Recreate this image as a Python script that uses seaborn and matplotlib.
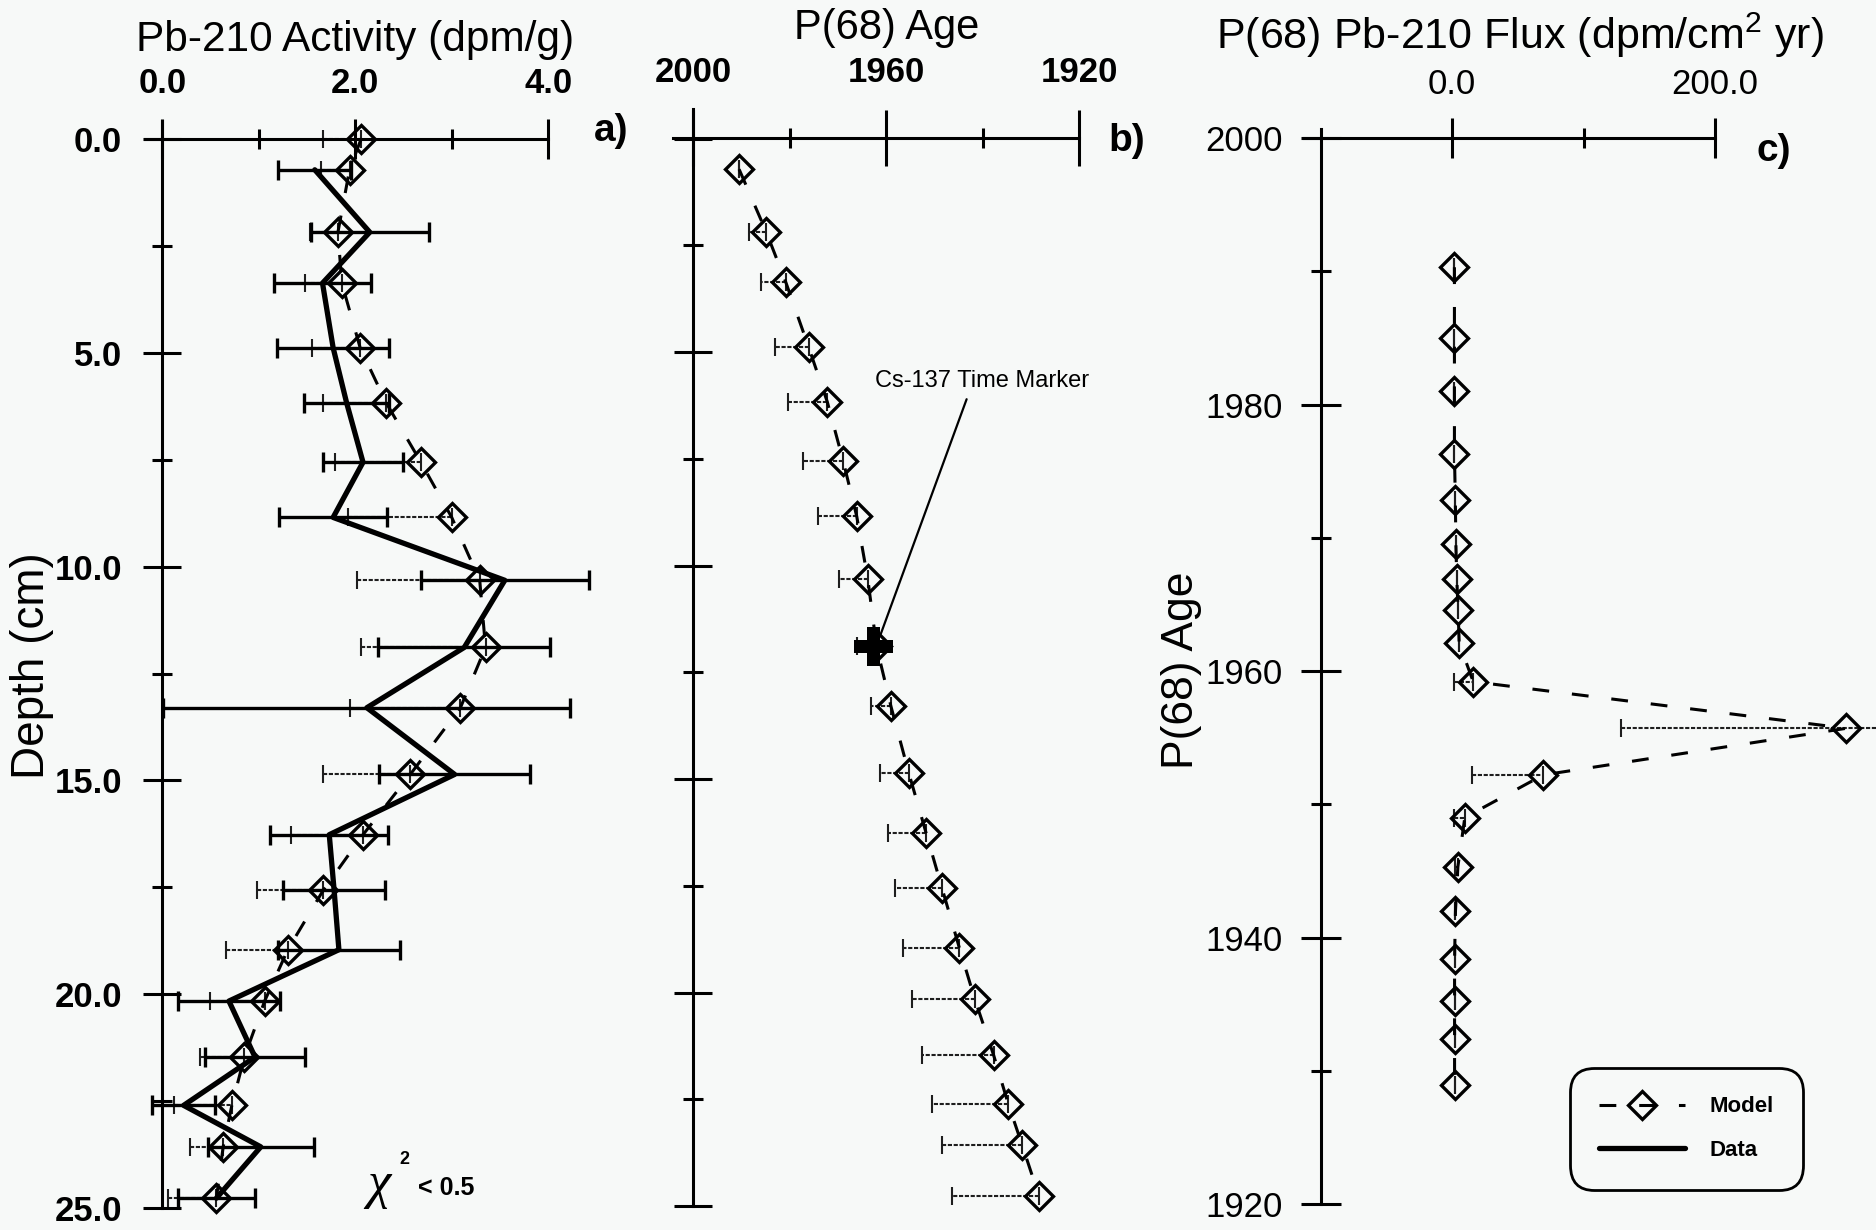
import matplotlib
matplotlib.use("Agg")
import matplotlib.pyplot as plt
import seaborn as sns
from matplotlib.lines import Line2D
from matplotlib.ticker import FixedLocator, FormatStrFormatter

# ---------------- data ----------------
depth_cm = [0.0, 0.72, 2.18, 3.37, 4.88, 6.17, 7.56, 8.85, 10.32, 11.89,
            13.30, 14.86, 16.27, 17.56, 18.96, 20.16, 21.47, 22.60, 23.57, 24.77]
model_activity = [2.06, 1.94, 1.82, 1.86, 2.05, 2.32, 2.68, 3.00, 3.29, 3.35,
                  3.09, 2.57, 2.08, 1.67, 1.30, 1.06, 0.85, 0.72, 0.63, 0.56]
model_activity_err = [0.40, 0.30, 0.29, 0.38, 0.50, 0.66, 0.89, 1.08, 1.27, 1.29,
                      1.14, 0.90, 0.75, 0.69, 0.64, 0.57, 0.46, 0.60, 0.34, 0.50]

data_depth_cm = [0.72, 2.18, 3.37, 4.88, 6.17, 7.56, 8.85, 10.32, 11.89,
                 13.30, 14.86, 16.27, 17.56, 18.96, 20.16, 21.47, 22.60, 23.57, 24.77]
data_activity = [1.58, 2.15, 1.66, 1.77, 1.91, 2.08, 1.77, 3.55, 3.13, 2.12,
                 3.03, 1.73, 1.78, 1.83, 0.69, 0.96, 0.22, 1.02, 0.56]
data_activity_err = [0.38, 0.61, 0.50, 0.58, 0.44, 0.41, 0.56, 0.87, 0.89, 2.11,
                     0.78, 0.61, 0.53, 0.63, 0.53, 0.52, 0.33, 0.55, 0.40]

age_depth_cm = [0.72, 2.18, 3.37, 4.88, 6.17, 7.56, 8.85, 10.32, 11.89,
                13.30, 14.86, 16.27, 17.56, 18.96, 20.16, 21.47, 22.60, 23.57, 24.77]
model_age = [1990.5, 1984.9, 1980.8, 1976.1, 1972.2, 1968.9, 1966.1, 1963.8, 1962.0, 1959.0,
             1955.3, 1951.7, 1948.4, 1944.8, 1941.6, 1937.7, 1934.7, 1931.8, 1928.3]
model_age_err = [0.0, 3.5, 5.2, 6.9, 8.2, 8.4, 8.0, 5.9, 4.0, 4.1,
                 5.9, 7.9, 9.8, 11.7, 13.0, 14.8, 15.7, 16.7, 18.0]
age_err_zero = [0.0] * len(model_age)
cs137_age = [1962.7]
cs137_depth = [11.89]

flux_age = [1990.3, 1985.0, 1981.0, 1976.3, 1972.8, 1969.5, 1966.9, 1964.6, 1962.1, 1959.2,
            1955.7, 1952.2, 1949.0, 1945.3, 1942.0, 1938.4, 1935.2, 1932.4, 1928.9]
flux_model = [1.7, 1.7, 1.7, 1.7, 2.4, 2.8, 3.5, 4.5, 5.3, 16.0,
              300.2, 69.3, 9.6, 4.3, 2.5, 1.8, 1.8, 1.8, 1.8]
flux_err_low = [0.0, 0.0, 0.0, 0.0, 0.0, 0.0, 0.0, 0.0, 0.0, 15.0,
                171.6, 54.0, 8.5, 2.0, 0.0, 0.0, 0.0, 0.0, 0.0]
flux_err_high = [0.0, 0.0, 0.0, 0.0, 0.0, 0.0, 0.0, 0.0, 0.0, 0.0,
                 171.6, 0.0, 0.0, 0.0, 0.0, 0.0, 0.0, 0.0, 0.0]

activity_ticks = [0.0, 2.0, 4.0]
activity_minor = [1.0, 3.0]
depth_ticks = [0.0, 5.0, 10.0, 15.0, 20.0, 25.0]
depth_minor = [2.5, 7.5, 12.5, 17.5, 22.5]
age_ticks = [2000, 1960, 1920]
age_minor = [1980, 1940]
flux_ticks = [0.0, 200.0]
flux_minor = [100.0]
year_ticks = [2000, 1980, 1960, 1940, 1920]
year_minor = [1990, 1970, 1950, 1930]

# ---------------- style ----------------
BG = "#f7f9f8"
W, H = 1876, 1230
sns.set_theme(style="white")
plt.rcParams.update({
    "figure.facecolor": BG,
    "axes.facecolor": BG,
    "savefig.facecolor": BG,
    "text.color": "black",
    "axes.labelcolor": "black",
    "xtick.color": "black",
    "ytick.color": "black",
    "mathtext.fontset": "custom",
    "mathtext.rm": "Liberation Sans",
    "mathtext.it": "Liberation Sans:italic",
    "mathtext.bf": "Liberation Sans:bold",
})
plt.rcParams["font.family"] = ["Liberation Sans", "DejaVu Sans"]

fig = plt.figure(figsize=(W / 100, H / 100), dpi=100)

LW_AX = 2.2
DASH = (0, (5.5, 7.5))


def add_axes(xlim, ylim, xa, pxa, xb, pxb, ya, pya, yb, pyb):
    sx = (pxb - pxa) / (xb - xa)
    sy = (pyb - pya) / (yb - ya)
    l = pxa + (xlim[0] - xa) * sx
    r = pxa + (xlim[1] - xa) * sx
    b = pya + (ylim[0] - ya) * sy
    t = pya + (ylim[1] - ya) * sy
    ax = fig.add_axes([l / W, 1 - b / H, (r - l) / W, (b - t) / H])
    ax.set_facecolor("none")
    return ax


def style(ax, xlim, ylim, xpos, ybounds, ypos, xbounds):
    ax.set_xlim(*xlim)
    ax.set_ylim(*ylim)
    ax.set_xlabel("")
    ax.set_ylabel("")
    for s in ["bottom", "right"]:
        ax.spines[s].set_visible(False)
    ax.spines["left"].set_position(("data", xpos))
    ax.spines["left"].set_bounds(*ybounds)
    ax.spines["top"].set_position(("data", ypos))
    ax.spines["top"].set_bounds(*xbounds)
    for s in ["left", "top"]:
        ax.spines[s].set_visible(True)
        ax.spines[s].set_linewidth(LW_AX)
        ax.spines[s].set_color("black")
    ax.xaxis.tick_top()
    ax.yaxis.tick_left()
    ax.tick_params(which="both", direction="inout", color="black", width=LW_AX,
                   labelcolor="black")


def model_line(ax, x, y):
    sns.lineplot(x=x, y=y, sort=False, estimator=None, color="black",
                 linewidth=2.2, ax=ax)
    ln = ax.lines[-1]
    ln.set_linestyle(DASH)
    ln.set_marker("D")
    ln.set_markersize(14)
    ln.set_markerfacecolor("none")
    ln.set_markeredgecolor("black")
    ln.set_markeredgewidth(2.4)


def thin_err(ax, x, y, xerr):
    eb = ax.errorbar(x, y, xerr=xerr, fmt="none", ecolor="#1e1e1e",
                     elinewidth=1.5, capsize=6.5, capthick=1.5)
    for lc in eb[2]:
        lc.set_linestyle((0, (2.0, 0.8)))
    return eb


# ================= panel a =================
A_XLIM, A_YLIM = (-0.35, 4.45), (25.45, -0.6)
axA = add_axes(A_XLIM, A_YLIM, 0, 162.4, 4, 548.2, 0, 139, 25, 1208)
thin_err(axA, model_activity, depth_cm, [model_activity_err, [0.0] * len(depth_cm)])
axA.errorbar(data_activity, data_depth_cm, xerr=data_activity_err, fmt="none",
             ecolor="black", elinewidth=2.4, capsize=7.5, capthick=2.4)
sns.lineplot(x=data_activity, y=data_depth_cm, sort=False, estimator=None,
             color="black", linewidth=3.8, ax=axA)
model_line(axA, model_activity, depth_cm)
style(axA, A_XLIM, A_YLIM, 0.0, (-0.43, 25.0), 0.0, (-0.18, 4.0))
axA.xaxis.set_major_locator(FixedLocator(activity_ticks))
axA.xaxis.set_minor_locator(FixedLocator(activity_minor))
axA.yaxis.set_major_locator(FixedLocator(depth_ticks))
axA.yaxis.set_minor_locator(FixedLocator(depth_minor))
axA.xaxis.set_major_formatter(FormatStrFormatter("%.1f"))
axA.yaxis.set_major_formatter(FormatStrFormatter("%.1f"))
axA.tick_params(axis="x", which="major", length=28.8, pad=13.5)
axA.tick_params(axis="x", which="minor", length=14.4)
axA.tick_params(axis="y", which="major", length=28.0, pad=15)
axA.tick_params(axis="y", which="minor", length=14.0)
for lab in axA.get_xticklabels() + axA.get_yticklabels():
    lab.set_fontsize(25)
    lab.set_fontweight("bold")

# ================= panel b =================
B_XLIM, B_YLIM = (2004.6, 1916), (25.45, -0.85)
axB = add_axes(B_XLIM, B_YLIM, 2000, 693.3, 1920, 1079, 0, 138.5, 25, 1206)
thin_err(axB, model_age, age_depth_cm, [age_err_zero, model_age_err])
model_line(axB, model_age, age_depth_cm)
sns.scatterplot(x=cs137_age, y=cs137_depth, marker="P", s=28 ** 2, color="black",
                edgecolor="none", linewidth=0, ax=axB, zorder=5)
style(axB, B_XLIM, B_YLIM, 2000, (-0.7, 25.0), 0.0, (1920, 2004.15))
axB.xaxis.set_major_locator(FixedLocator(age_ticks))
axB.xaxis.set_minor_locator(FixedLocator(age_minor))
axB.yaxis.set_major_locator(FixedLocator(depth_ticks))
axB.yaxis.set_minor_locator(FixedLocator(depth_minor))
axB.xaxis.set_major_formatter(FormatStrFormatter("%d"))
axB.tick_params(axis="x", which="major", length=41, pad=15.5)
axB.tick_params(axis="x", which="minor", length=14.4)
axB.tick_params(axis="y", which="major", length=28.0, labelleft=False)
axB.tick_params(axis="y", which="minor", length=14.8)
for lab in axB.get_xticklabels():
    lab.set_fontsize(25)
    lab.set_fontweight("bold")
axB.annotate("Cs-137 Time Marker", xy=(1961.2, 11.63), xytext=(1940.1, 5.68),
             textcoords="data", ha="center", va="center", fontsize=17,
             color="black",
             arrowprops=dict(arrowstyle="-", color="black", lw=1.6,
                             relpos=(0.44, 0.0), shrinkA=3, shrinkB=0))

# ================= panel c =================
C_XLIM, C_YLIM = (-118, 323), (1919, 2001.5)
axC = add_axes(C_XLIM, C_YLIM, 0, 1452.2, 200, 1714.8, 2000, 138, 1920, 1204)
thin_err(axC, flux_model, flux_age, [flux_err_low, flux_err_high])
model_line(axC, flux_model, flux_age)
style(axC, C_XLIM, C_YLIM, -100, (1920, 2000.7), 2000, (-113, 200))
axC.xaxis.set_major_locator(FixedLocator(flux_ticks))
axC.xaxis.set_minor_locator(FixedLocator(flux_minor))
axC.yaxis.set_major_locator(FixedLocator(year_ticks))
axC.yaxis.set_minor_locator(FixedLocator(year_minor))
axC.xaxis.set_major_formatter(FormatStrFormatter("%.1f"))
axC.yaxis.set_major_formatter(FormatStrFormatter("%d"))
axC.tick_params(axis="x", which="major", length=28.8, pad=12.5)
axC.tick_params(axis="x", which="minor", length=14.4)
axC.tick_params(axis="y", which="major", length=28.8, pad=13)
axC.tick_params(axis="y", which="minor", length=14.4)
for lab in axC.get_xticklabels() + axC.get_yticklabels():
    lab.set_fontsize(25)

handles = [
    Line2D([0], [0], color="black", lw=2.2, linestyle=DASH, marker="D",
           markersize=14, markerfacecolor="none", markeredgecolor="black",
           markeredgewidth=2.4),
    Line2D([0], [0], color="black", lw=3.8),
]
leg = fig.legend(handles, ["Model", "Data"], loc="center",
                 bbox_to_anchor=(1686.5 / W, 1 - 1128.5 / H),
                 prop={"size": 16, "weight": "bold"}, frameon=True, fancybox=True,
                 handlelength=3.9, handletextpad=1.1, borderpad=1.3,
                 labelspacing=1.0, numpoints=1, framealpha=1)
for t in leg.get_texts():
    t.set_color("black")
frame = leg.get_frame()
frame.set_edgecolor("black")
frame.set_facecolor(BG)
frame.set_linewidth(2.0)
frame.set_boxstyle("round,pad=0,rounding_size=1.1")


# ---------------- texts ----------------
def ftext(px, py, s, **kw):
    fig.text(px / W, 1 - py / H, s, color="black", **kw)


ftext(355, 50.6, "Pb-210 Activity (dpm/g)", ha="center", va="baseline", fontsize=30.5)
ftext(886.7, 39.5, "P(68) Age", ha="center", va="baseline", fontsize=30)
ftext(1520, 48.5, r"P(68) Pb-210 Flux (dpm/cm$^{2}$ yr)", ha="center",
      va="baseline", fontsize=31)
ftext(32, 666, "Depth (cm)", rotation=90, ha="center", va="center", fontsize=33)
ftext(1182, 670, "P(68) Age", rotation=90, ha="center", va="center", fontsize=32)
ftext(611, 131, "a)", ha="center", va="center", fontsize=28, fontweight="bold")
ftext(1127, 141, "b)", ha="center", va="center", fontsize=28, fontweight="bold")
ftext(1774, 151, "c)", ha="center", va="center", fontsize=28, fontweight="bold")
ftext(379, 1185, "\u03c7", ha="center", va="center", fontsize=38,
      family=["Liberation Serif", "DejaVu Serif"], style="italic")
ftext(404, 1160, "2", ha="center", va="center", fontsize=13, fontweight="bold")
ftext(418, 1195, "< 0.5", ha="left", va="baseline", fontsize=18, fontweight="bold")

fig.savefig("out.png", dpi=100, facecolor=BG)
